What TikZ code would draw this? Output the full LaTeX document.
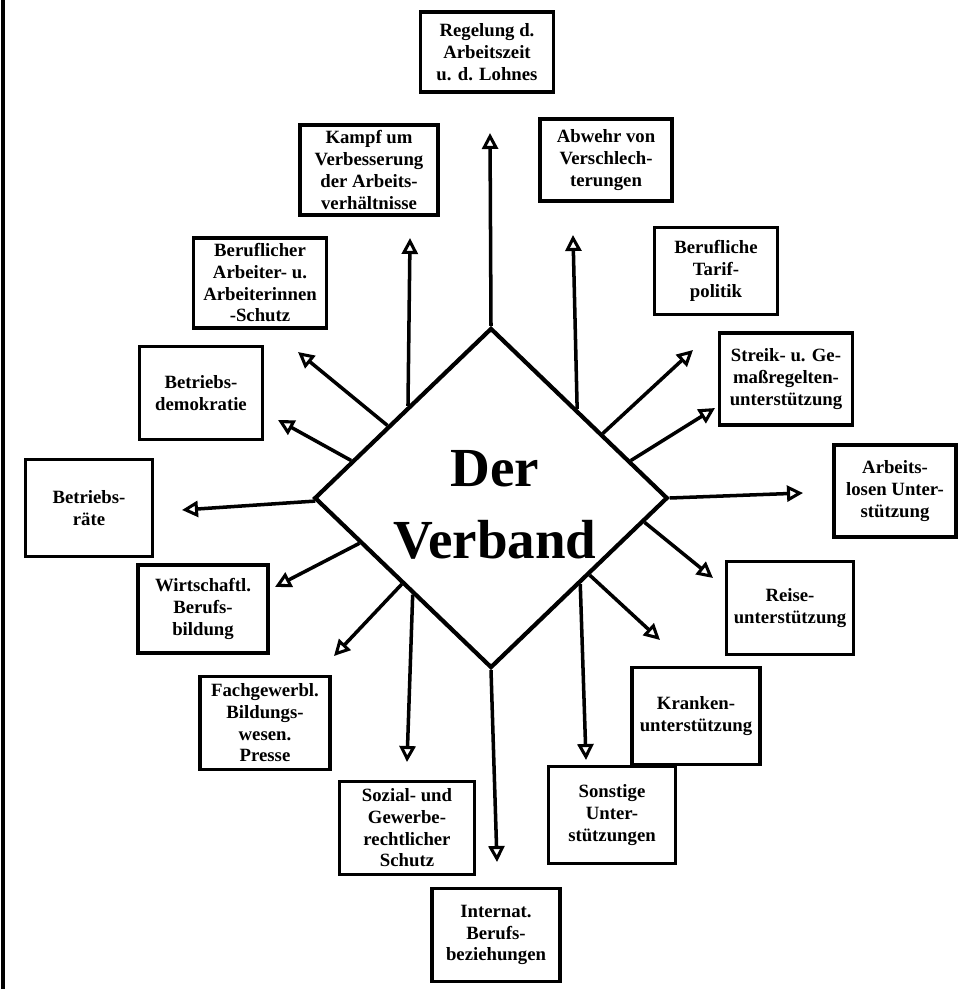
\documentclass[tikz,border=0pt]{standalone}
\usepackage{fontspec}
\setmainfont{Liberation Serif}
\usetikzlibrary{arrows.meta, shapes.geometric, positioning}
\tikzset{
  kasten/.style 2 args = {draw, line width=3.1pt, align=center, inner sep=0pt,
                          minimum width=#1, minimum height=#2,
                          font=\fontsize{16}{18.5}\selectfont\bfseries},
  mitte/.style  = {draw, diamond, line width=3.6pt, inner sep=0pt,
                   minimum width=10.6cm, minimum height=10.2cm},
  titel/.style  = {align=center, inner sep=0pt,
                   font=\fontsize{47}{62}\selectfont\bfseries},
  pfeil/.style  = {line width=3pt,
                   -{Triangle[open, length=0.48cm, width=0.48cm, line width=2.6pt]}},
  rand/.style   = {line width=3pt},
}

\begin{document}
\begin{tikzpicture}[x=0.03cm, y=-0.03cm]
  \useasboundingbox (0,0) rectangle (959,989);
  \draw[rand] (3,0) -- (3,989);

  % mitte
  \node[mitte] (verband) at (491,498) {};
  \node[titel] (name) at (495,505) {Der\\Verband};

  % kaesten, im uhrzeigersinn von oben
  \node[kasten={4.0cm}{2.4cm}]   (regelung)  at (487,52)  {Regelung d.\\Arbeitszeit\\u. d. Lohnes};
  \node[kasten={3.95cm}{2.45cm}] (abwehr)    at (606,160) {Abwehr von\\Verschlech-\\terungen};
  \node[kasten={3.7cm}{2.6cm}]   (tarif)     at (716,271) {Berufliche\\Tarif-\\politik};
  \node[kasten={4.0cm}{2.75cm}]  (streik)    at (786,379) {Streik- u. Ge-\\maßregelten-\\unterstützung};
  \node[kasten={3.65cm}{2.75cm}] (arbeitsl)  at (895,491) {Arbeits-\\losen Unter-\\stützung};
  \node[kasten={3.8cm}{2.8cm}]   (reise)     at (790,608) {Reise-\\unterstützung};
  \node[kasten={3.85cm}{2.9cm}]  (kranken)   at (696,716) {Kranken-\\unterstützung};
  \node[kasten={3.8cm}{2.9cm}]   (sonstige)  at (612,815) {Sonstige\\Unter-\\stützungen};
  \node[kasten={3.85cm}{2.8cm}]  (internat)  at (496,935) {Internat.\\Berufs-\\beziehungen};
  \node[kasten={4.05cm}{2.8cm}]  (sozial)    at (407,828) {Sozial- und\\Gewerbe-\\rechtlicher\\Schutz};
  \node[kasten={3.9cm}{2.8cm}]   (fach)      at (265,723) {Fachgewerbl.\\Bildungs-\\wesen.\\Presse};
  \node[kasten={3.9cm}{2.65cm}]  (wirtsch)   at (203,609) {Wirtschaftl.\\Berufs-\\bildung};
  \node[kasten={3.8cm}{2.9cm}]   (raete)     at (89,508)  {Betriebs-\\räte};
  \node[kasten={3.7cm}{2.8cm}]   (demokr)    at (201,393) {Betriebs-\\demokratie};
  \node[kasten={4.0cm}{2.7cm}]   (schutz)    at (260,283) {Beruflicher\\Arbeiter- u.\\Arbeiterinnen\\-Schutz};
  \node[kasten={4.15cm}{2.7cm}]  (kampf)     at (369,170) {Kampf um\\Verbesserung\\der Arbeits-\\verhältnisse};

  % pfeilspitzen
  \coordinate (t1)  at (490,133);
  \coordinate (t2)  at (573,235);
  \coordinate (t3)  at (693,350);
  \coordinate (t4)  at (715,408);
  \coordinate (t5)  at (803,493);
  \coordinate (t6)  at (713,578);
  \coordinate (t7)  at (660,640);
  \coordinate (t8)  at (586,760);
  \coordinate (t9)  at (497,862);
  \coordinate (t10) at (407,762);
  \coordinate (t11) at (334,656);
  \coordinate (t12) at (275,587);
  \coordinate (t13) at (182,510);
  \coordinate (t14) at (278,420);
  \coordinate (t15) at (298,352);
  \coordinate (t16) at (410,238);

  \draw[pfeil] (verband.north) -- (t1);
  \draw[pfeil] (verband.46.3)  -- (t2);
  \draw[pfeil] (verband.30.7)  -- (t3);
  \draw[pfeil] (verband.15.5)  -- (t4);
  \draw[pfeil] (verband.east)  -- (t5);
  \draw[pfeil] (verband.351.9) -- (t6);
  \draw[pfeil] (verband.322)   -- (t7);
  \draw[pfeil] (verband.316)   -- (t8);
  \draw[pfeil] (verband.south) -- (t9);
  \draw[pfeil] (verband.231)   -- (t10);
  \draw[pfeil] (verband.224)   -- (t11);
  \draw[pfeil] (verband.199.4) -- (t12);
  \draw[pfeil] (verband.181.6) -- (t13);
  \draw[pfeil] (verband.165.7) -- (t14);
  \draw[pfeil] (verband.145.8) -- (t15);
  \draw[pfeil] (verband.132.7) -- (t16);
\end{tikzpicture}
\end{document}
